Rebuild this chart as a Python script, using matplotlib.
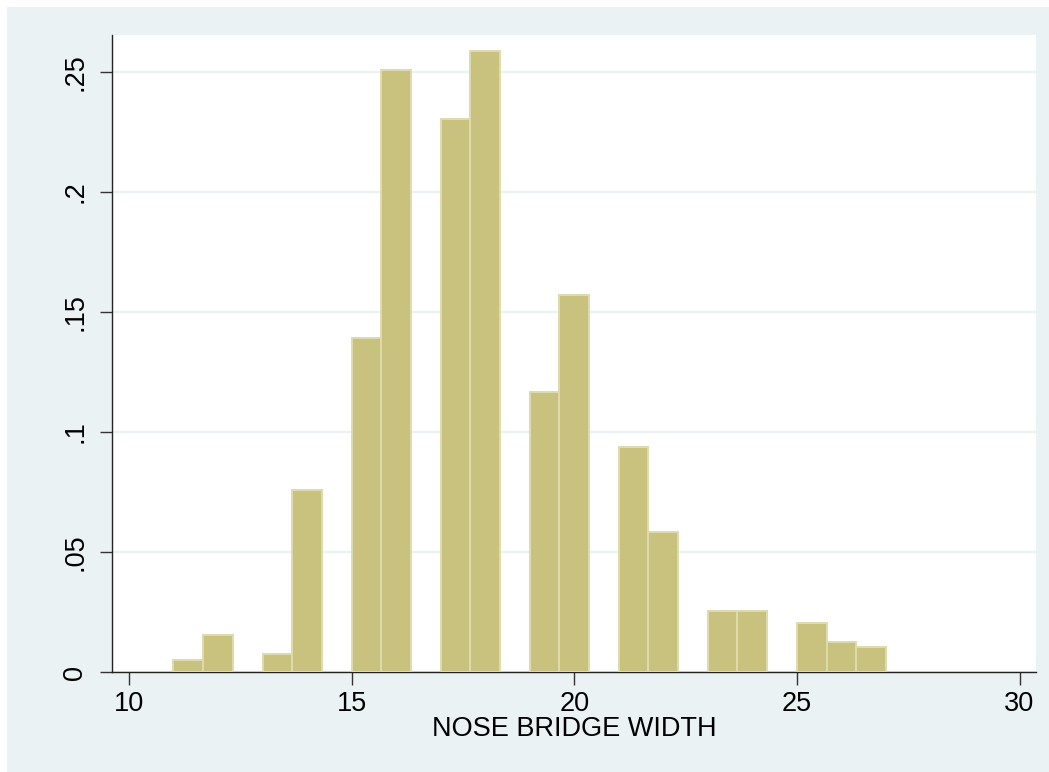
import matplotlib
matplotlib.use('Agg')
import matplotlib.pyplot as plt
from matplotlib.patches import Rectangle
import numpy as np

# Histogram data (Stata-style density, bin width 2/3 starting at 11)
bin_start = 11.0
bin_width = 2.0 / 3.0
density = [0.0050, 0.0154, 0.0, 0.0077, 0.0757, 0.0, 0.1390, 0.2507, 0.0,
           0.2305, 0.2585, 0.0, 0.1166, 0.1570, 0.0, 0.0936, 0.0582, 0.0,
           0.0254, 0.0254, 0.0, 0.0204, 0.0127, 0.0103]
x_ticks = [10, 15, 20, 25, 30]
y_ticks = [0, 0.05, 0.10, 0.15, 0.20, 0.25]
y_tick_labels = ['0', '.05', '.1', '.15', '.2', '.25']
x_label = 'NOSE BRIDGE WIDTH'

COLORS = {
    'outer': '#EAF2F3',
    'grid': '#EAF2F3',
    'bar': '#C9C27E',
    'bar_edge': '#DEDBAE',
}

plt.rcParams['font.family'] = ['Liberation Sans', 'DejaVu Sans']

W, H = 1049, 772
fig = plt.figure(figsize=(W / 100, H / 100), dpi=100, facecolor='white')
fig.patches.append(Rectangle((7 / W, 0), 1 - 7 / W, (H - 7) / H,
                             transform=fig.transFigure, facecolor=COLORS['outer'],
                             edgecolor='none', zorder=-10))

ax = fig.add_axes([112 / W, 1 - 672 / H, (1036 - 112) / W, (672 - 35) / H])
ax.set_facecolor('white')

dens = np.array(density)
lefts = bin_start + bin_width * np.arange(len(dens))
keep = dens > 0
ax.bar(lefts[keep], dens[keep], width=bin_width, align='edge',
       color=COLORS['bar'], edgecolor=COLORS['bar_edge'], linewidth=1.4, zorder=3)

ax.set_xlim(9.62, 30.37)
ax.set_ylim(0, 0.2653)

ax.set_xticks(x_ticks)
ax.set_xticklabels([str(t) for t in x_ticks])
ax.set_yticks(y_ticks)
ax.set_yticklabels(y_tick_labels, rotation=90, va='center')
ax.tick_params(axis='both', direction='out', length=9, width=1, labelsize=19.5,
               color='#333333', pad=5)
ax.tick_params(axis='y', pad=8)

ax.yaxis.grid(True, color=COLORS['grid'], linewidth=1.6, zorder=0)
ax.set_axisbelow(True)

for side in ['top', 'right']:
    ax.spines[side].set_visible(False)
for side in ['left', 'bottom']:
    ax.spines[side].set_color('#222222')
    ax.spines[side].set_linewidth(1.0)

ax.set_xlabel(x_label, fontsize=19.5, labelpad=-1)

fig.savefig('out.png', dpi=100, facecolor='white')
